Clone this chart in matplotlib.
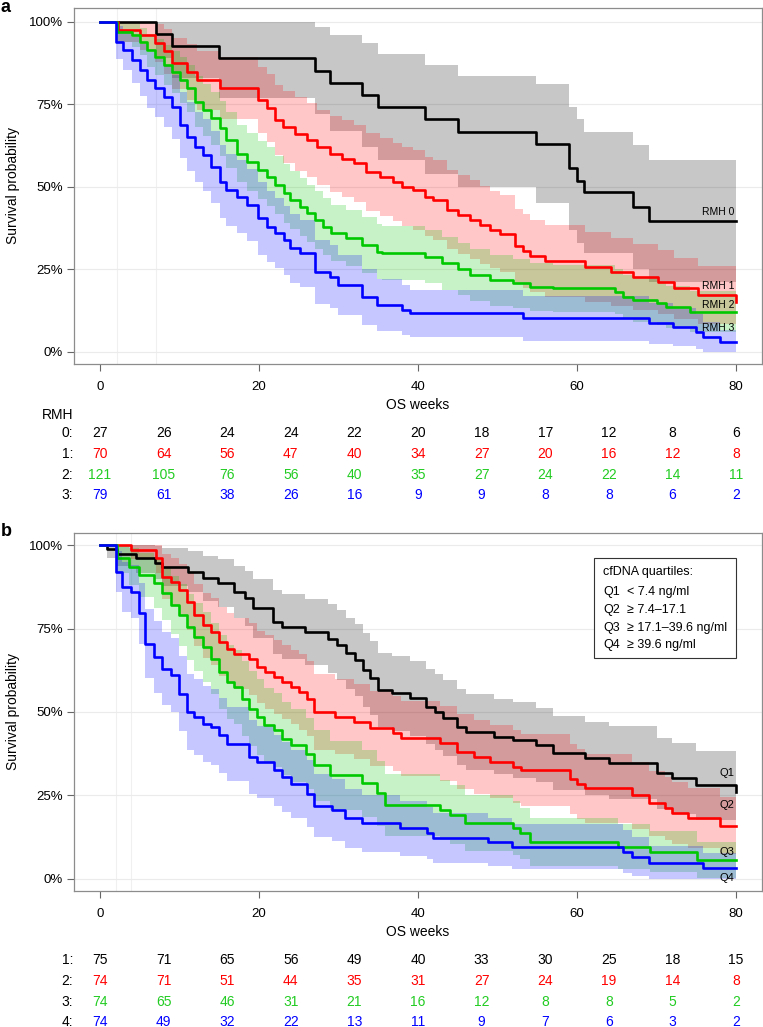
import numpy as np
import matplotlib.pyplot as plt
from matplotlib.patches import Rectangle
from matplotlib.transforms import blended_transform_factory

plt.rcParams['font.family'] = ['Liberation Sans', 'DejaVu Sans']

W, H = 763, 1027

# ---- panel a: RMH score groups (time in weeks, survival, CI half width) ----
t_a0 = [0, 7.0, 9.0, 15.0, 27.0, 28.9, 32.9, 35.0, 40.9, 45.0, 54.9, 59.0, 60.0, 60.9, 67.0, 69.0, 80]
s_a0 = [1, .962, .926, .889, .852, .815, .778, .741, .704, .667, .630, .556, .517, .483, .438, .395, .395]
w_a0 = [0, .072, .096, .119, .132, .145, .158, .161, .164, .167, .18, .186, .187, .183, .188, .185, .185]

t_a1 = [0, 2.3, 5.0, 6.9, 8.0, 9.0, 10.9, 12.2, 15.1, 19.9, 21.0, 22.0, 23.0, 24.5, 26.0, 27.3, 28.9, 30.5,
        31.9, 33.5, 35.2, 36.9, 38.0, 39.4, 40.9, 41.9, 43.6, 45.0, 46.5, 47.8, 49.0, 50.3, 52.2, 53.2, 54.1,
        56.0, 61.0, 64.3, 67.1, 70.2, 72.2, 75.2, 80.0]
s_a1 = [1, .975, .96, .935, .91, .874, .848, .823, .798, .763, .74, .702, .68, .66, .642, .62, .60, .585,
        .571, .545, .53, .515, .50, .49, .47, .46, .43, .415, .40, .384, .37, .358, .32, .305, .29,
        .275, .258, .242, .227, .21, .192, .172, .152]
w_a1 = [0, .037, .046, .058, .067, .078, .084, .089, .094, .10, .103, .107, .109, .111, .112, .114, .115, .116,
        .117, .118, .119, .119, .12, .12, .12, .12, .12, .12, .119, .118, .117, .116, .113, .111, .11,
        .108, .106, .103, .10, .097, .093, .088, .083]

t_a2 = [0, 2.1, 4.0, 5.0, 5.9, 6.9, 8.0, 9.0, 10.1, 10.9, 11.9, 13.0, 14.0, 15.1, 15.9, 17.2, 18.5, 19.9,
        21.0, 22.0, 23.1, 23.9, 25.2, 26.0, 27.0, 28.1, 29.1, 31.0, 32.9, 34.8, 35.5, 40.9, 43.0, 45.0,
        46.5, 49.1, 52.0, 54.1, 57.0, 64.8, 65.8, 67.1, 70.0, 71.2, 74.2, 80]
s_a2 = [1, .97, .96, .94, .914, .894, .869, .848, .823, .798, .758, .732, .707, .677, .642, .60, .576, .551,
        .53, .505, .48, .46, .44, .419, .399, .379, .359, .344, .323, .303, .298, .288, .268, .25,
        .232, .217, .207, .197, .192, .182, .167, .157, .147, .136, .121, .121]
w_a2 = [0, .03, .038, .042, .05, .055, .06, .064, .07, .072, .076, .079, .081, .083, .085, .087, .088, .089,
        .089, .089, .089, .088, .088, .087, .087, .086, .085, .085, .084, .083, .082, .081, .080, .079,
        .078, .077, .075, .073, .072, .068, .067, .066, .065, .064, .062, .062]

t_a3 = [0, 2.0, 2.9, 4.0, 5.0, 5.9, 6.9, 8.0, 9.0, 10.1, 10.9, 11.9, 13.0, 14.0, 15.1, 15.9, 17.2, 18.5,
        19.9, 21.0, 22.0, 23.1, 23.9, 25.2, 27.0, 28.9, 30.0, 32.9, 34.8, 38.0, 39.0, 53.2, 69.0, 72.1,
        75.0, 75.9, 78.0, 80]
s_a3 = [1, .937, .914, .884, .854, .823, .798, .773, .742, .687, .652, .621, .596, .561, .515, .49, .47, .445,
        .404, .379, .359, .338, .313, .298, .242, .227, .202, .167, .141, .126, .116, .101, .086, .076,
        .061, .045, .03, .03]
w_a3 = [0, .05, .06, .07, .078, .085, .088, .092, .096, .10, .104, .106, .108, .109, .11, .11, .11, .11,
        .11, .108, .106, .105, .104, .102, .098, .095, .09, .085, .078, .075, .072, .068, .062, .058,
        .052, .045, .035, .035]

# ---- panel b: cfDNA quartiles ----
t_b1 = [0, 0.9, 2.1, 4.5, 6.9, 7.8, 11.1, 13.0, 14.9, 16.8, 18.2, 19.3, 21.8, 22.9, 25.8, 28.7, 29.8, 31.0,
        32.1, 33.1, 34.0, 35.0, 36.7, 39.0, 41.0, 42.1, 43.1, 44.9, 46.0, 49.5, 52.0, 54.9, 57.0, 61.0,
        64.0, 70.0, 72.0, 75.0, 80.0]
s_b1 = [1, .987, .973, .96, .947, .933, .92, .90, .885, .86, .84, .81, .77, .755, .74, .72, .70, .676,
        .656, .626, .601, .566, .556, .541, .516, .501, .481, .456, .441, .426, .416, .401, .376, .361,
        .348, .316, .301, .281, .261]
w_b1 = [0, .025, .037, .045, .05, .057, .061, .068, .072, .078, .083, .088, .095, .097, .099, .102, .104, .106,
        .108, .110, .111, .112, .112, .113, .113, .114, .114, .114, .114, .113, .113, .112, .111, .110,
        .109, .106, .105, .103, .10]

t_b2 = [0, 3.9, 7.0, 7.8, 8.9, 9.9, 11.0, 11.8, 12.9, 13.9, 15.0, 16.0, 16.9, 18.7, 19.8, 20.8, 21.9, 22.9,
        24.0, 25.0, 26.1, 26.9, 29.6, 31.9, 34.0, 36.9, 37.9, 42.8, 44.9, 47.0, 49.1, 52.0, 53.0, 59.1,
        60.0, 61.0, 66.9, 69.0, 71.1, 71.9, 74.0, 78.0, 80]
s_b2 = [1, .985, .96, .905, .89, .865, .83, .79, .76, .74, .71, .69, .675, .66, .635, .62, .605, .59,
        .575, .56, .54, .50, .486, .471, .451, .436, .421, .406, .381, .366, .351, .336, .326, .30,
        .284, .271, .251, .227, .212, .197, .182, .159, .159]
w_b2 = [0, .028, .045, .067, .071, .077, .085, .092, .097, .10, .103, .106, .107, .108, .109, .11, .111, .112,
        .112, .113, .113, .113, .113, .113, .113, .113, .113, .113, .112, .111, .11, .109, .108, .105,
        .104, .102, .10, .097, .094, .093, .09, .085, .085]

t_b3 = [0, 2.2, 3.6, 4.9, 6.8, 7.8, 8.9, 9.9, 11.0, 11.8, 12.9, 13.9, 15.0, 16.0, 16.9, 17.9, 18.7, 19.8,
        20.6, 21.9, 22.9, 24.0, 25.9, 26.9, 28.9, 32.9, 34.8, 35.8, 42.8, 44.0, 45.9, 52.0, 52.8, 54.1,
        65.2, 69.2, 75.1, 80]
s_b3 = [1, .96, .935, .91, .885, .855, .82, .79, .755, .725, .695, .66, .62, .59, .575, .54, .51, .485,
        .46, .445, .42, .40, .375, .34, .31, .287, .257, .222, .207, .192, .167, .152, .137, .112,
        .097, .082, .057, .057]
w_b3 = [0, .045, .056, .065, .073, .08, .087, .093, .098, .101, .104, .107, .11, .112, .112, .113, .113, .113,
        .112, .111, .11, .109, .107, .106, .104, .1, .097, .093, .09, .088, .083, .08, .077, .072,
        .067, .062, .053, .053]

t_b4 = [0, 2.0, 2.8, 3.9, 4.9, 5.7, 6.8, 7.8, 8.9, 9.9, 11.0, 11.8, 12.9, 13.9, 15.0, 16.0, 18.7, 19.8,
        21.9, 22.9, 24.0, 26.1, 26.9, 29.2, 30.8, 32.9, 37.7, 41.1, 41.9, 48.8, 51.8, 65.8, 66.9, 69.0,
        75.9, 80]
s_b4 = [1, .92, .875, .86, .795, .705, .665, .63, .61, .555, .50, .485, .465, .455, .43, .405, .365, .35,
        .325, .305, .285, .255, .22, .207, .182, .167, .152, .137, .122, .112, .097, .082, .067, .049,
        .034, .034]
w_b4 = [0, .062, .075, .079, .092, .104, .107, .11, .111, .113, .114, .114, .114, .113, .112, .111, .11, .108,
        .106, .104, .102, .10, .095, .093, .088, .085, .082, .078, .075, .072, .068, .064, .058, .05,
        .045, .045]

# numbers at risk
risk_t = [0, 8, 16, 24, 32, 40, 48, 56, 64, 72, 80]
risk_a = [[27, 26, 24, 24, 22, 20, 18, 17, 12, 8, 6],
          [70, 64, 56, 47, 40, 34, 27, 20, 16, 12, 8],
          [121, 105, 76, 56, 40, 35, 27, 24, 22, 14, 11],
          [79, 61, 38, 26, 16, 9, 9, 8, 8, 6, 2]]
risk_b = [[75, 71, 65, 56, 49, 40, 33, 30, 25, 18, 15],
          [74, 71, 51, 44, 35, 31, 27, 24, 19, 14, 8],
          [74, 65, 46, 31, 21, 16, 12, 8, 8, 5, 2],
          [74, 49, 32, 22, 13, 11, 9, 7, 6, 3, 2]]

line_cols = ['black', '#ff0000', '#00c800', '#0000ff']
text_cols = ['black', '#ff0000', '#22cc22', '#0000ff']


def fy(px):
    return 1 - px / H


fig = plt.figure(figsize=(W / 100, H / 100), dpi=100)


def km_panel(top, bottom, curves, ylim, vlines):
    ax = fig.add_axes([74 / W, fy(bottom), 688 / W, (bottom - top) / H])
    ax.set_xlim(-3.27, 83.27)
    ax.set_ylim(*ylim)
    for v in vlines:
        ax.axvline(v, color='#f0f0f0', lw=0.8, zorder=0)
    for y in [0, .25, .5, .75, 1]:
        ax.axhline(y, color='#ebebeb', lw=0.8, zorder=0)
    for (t, s, w), c in zip(curves, line_cols):
        s = np.array(s)
        w = np.array(w)
        ax.fill_between(t, np.clip(s - w, 0, 1), np.clip(s + w, 0, 1), step='post',
                        color=c, alpha=0.22, lw=0, zorder=1)
    for (t, s, w), c in zip(curves, line_cols):
        ax.step(t, s, where='post', color=c, lw=1.9, zorder=3)
    ax.set_xticks([0, 20, 40, 60, 80])
    ax.set_yticks([0, .25, .5, .75, 1])
    ax.set_yticklabels(['0%', '25%', '50%', '75%', '100%'])
    ax.tick_params(axis='both', colors='#666666', labelcolor='black', labelsize=9.5, length=5)
    ax.tick_params(axis='x', pad=7)
    ax.tick_params(axis='y', pad=3)
    for sp in ax.spines.values():
        sp.set_color('#8c8c8c')
        sp.set_linewidth(0.9)
    ax.set_ylabel('Survival probability', fontsize=10, labelpad=6)
    ax.set_xlabel('OS weeks', fontsize=10, labelpad=4)
    return ax


def risk_rows(ax, rows, labels, ys):
    tr = blended_transform_factory(ax.transData, fig.transFigure)
    for row, lab, y, c in zip(rows, labels, ys, text_cols):
        fig.text(73 / W, fy(y), lab, ha='right', va='center', fontsize=10)
        for t, n in zip(risk_t, row):
            fig.text(t, fy(y), str(n), transform=tr, ha='center', va='center', fontsize=10, color=c)


# panel a
ax1 = km_panel(8, 364, [(t_a0, s_a0, w_a0), (t_a1, s_a1, w_a1), (t_a2, s_a2, w_a2), (t_a3, s_a3, w_a3)],
               (-0.037, 1.0415), [2.1, 7.0])
for lab, y in zip(['RMH 0', 'RMH 1', 'RMH 2', 'RMH 3'], [0.424, 0.199, 0.142, 0.071]):
    ax1.text(79.8, y, lab, ha='right', va='center', fontsize=7.5, zorder=5)
fig.text(6 / W, fy(7), 'a', fontsize=13, fontweight='bold', ha='center', va='center')
fig.text(73 / W, fy(415), 'RMH', ha='right', va='center', fontsize=10)
risk_rows(ax1, risk_a, ['0:', '1:', '2:', '3:'], [433, 454, 475, 495])

# panel b
ax2 = km_panel(533, 891, [(t_b1, s_b1, w_b1), (t_b2, s_b2, w_b2), (t_b3, s_b3, w_b3), (t_b4, s_b4, w_b4)],
               (-0.036, 1.036), [2.0, 3.9])
for lab, y in zip(['Q1', 'Q2', 'Q3', 'Q4'], [0.316, 0.222, 0.082, 0.002]):
    ax2.text(79.8, y, lab, ha='right', va='center', fontsize=8, zorder=5)
fig.text(6 / W, fy(531), 'b', fontsize=13, fontweight='bold', ha='center', va='center')
risk_rows(ax2, risk_b, ['1:', '2:', '3:', '4:'], [960, 981, 1002, 1022])

# legend box for cfDNA quartiles
fig.patches.append(Rectangle((594 / W, fy(658)), 142 / W, 100 / H, transform=fig.transFigure,
                             facecolor='white', edgecolor='#333333', lw=0.8, zorder=5))
fig.text(603 / W, fy(572), 'cfDNA quartiles:', fontsize=9, va='center', zorder=6)
leg_q = ['Q1', 'Q2', 'Q3', 'Q4']
leg_txt = ['< 7.4 ng/ml', '\u2265 7.4\u201317.1', '\u2265 17.1\u201339.6 ng/ml', '\u2265 39.6 ng/ml']
for q, txt, y in zip(leg_q, leg_txt, [592, 610, 628, 645]):
    fig.text(603 / W, fy(y), q, fontsize=9, va='center', zorder=6)
    fig.text(627 / W, fy(y), txt, fontsize=9, va='center', zorder=6)

fig.savefig('out.png', dpi=100)
